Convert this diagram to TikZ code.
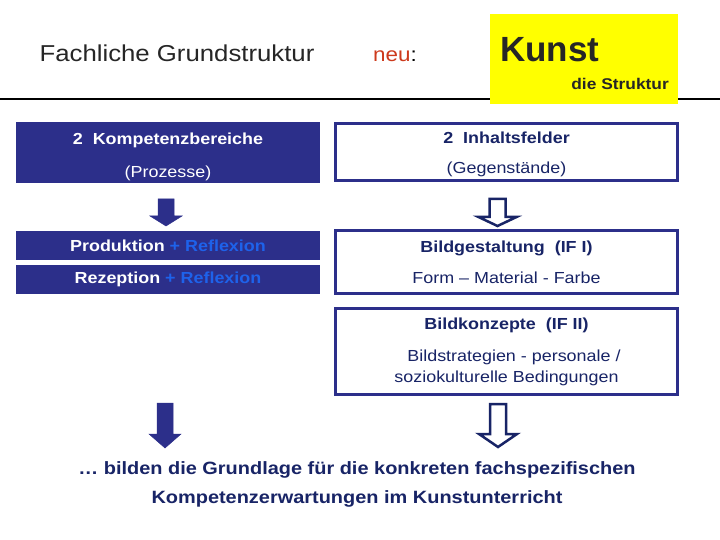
\documentclass[tikz,border=0pt]{standalone}
\usepackage{fontspec}
\setmainfont{Liberation Sans}[FakeStretch=1.12]
\newfontfamily\kunstfont{Liberation Sans}
\usetikzlibrary{positioning}
\definecolor{boxblue}{RGB}{44,47,138}
\definecolor{navy}{RGB}{24,36,102}
\definecolor{reflblue}{RGB}{30,98,235}
\definecolor{neured}{RGB}{205,58,28}
\definecolor{kunstyellow}{RGB}{255,255,0}
\tikzset{
  leftbox/.style={rectangle, fill=boxblue, text=white, minimum width=304, inner sep=0, align=center},
  rightbox/.style={rectangle, draw=boxblue, line width=3, fill=white, text=navy, minimum width=342, inner sep=0, align=center},
  solidarrow/.style={fill=boxblue, draw=boxblue, line width=0.5},
  openarrow/.style={draw=navy, fill=white, line width=2.5, line join=miter}
}

\begin{document}
\begin{tikzpicture}[x=1pt, y=-1pt]
        \useasboundingbox[fill=white] (0,0) rectangle (720,540);
        % Header
        \draw[line width=1.5] (0,99) -- (720,99);
        \node[anchor=base, font=\fontsize{23}{26}\selectfont, text=black!85] (title) at (177,62) {Fachliche Grundstruktur};
        \node[anchor=base west, inner sep=0, font=\fontsize{20}{24}\selectfont] (neu) at (373,62) {\textcolor{neured}{neu}:};
        \node[fill=kunstyellow, minimum width=188, minimum height=90, inner sep=0] (kunstbox) at (584,59) {};
        \node[anchor=base west, inner sep=0, font=\kunstfont\fontsize{35}{40}\selectfont\bfseries, text=black!85] (kunst) at (500,62) {Kunst};
        \node[anchor=base east, inner sep=0, font=\fontsize{15.5}{18}\selectfont\bfseries, text=black!85] (struktur) at (669,90) {die Struktur};

        % Kompetenzbereiche (left)
        \node[leftbox, minimum height=61, font=\fontsize{16}{33}\selectfont] (kompetenz) at (168,152.5) {\rule{0pt}{20pt}\textbf{2\ \ Kompetenzbereiche}\\(Prozesse)};
        \node[leftbox, minimum height=29, font=\fontsize{16}{18}\selectfont\bfseries] (produktion) at (168,245.5) {Produktion \textcolor{reflblue}{+ Reflexion}};
        \node[leftbox, minimum height=29, font=\fontsize{16}{18}\selectfont\bfseries] (rezeption) at (168,279.5) {Rezeption \textcolor{reflblue}{+ Reflexion}};

        % Inhaltsfelder (right)
        \node[rightbox, minimum height=57, font=\fontsize{16}{30}\selectfont] (inhalt) at (506.5,152) {\rule{0pt}{17pt}\textbf{2\ \ Inhaltsfelder}\\(Gegenstände)};
        \node[rightbox, minimum height=63, font=\fontsize{16}{31}\selectfont] (bildgestaltung) at (506.5,262) {\textbf{Bildgestaltung\ \ (IF I)}\\Form -- Material - Farbe};
        \node[rightbox, minimum height=86, font=\fontsize{16}{21}\selectfont] (bildkonzepte) at (506.5,351.5) {\textbf{Bildkonzepte\ \ (IF II)}\\[11pt]\ \ \ Bildstrategien - personale /\\soziokulturelle Bedingungen};

        % Block arrows
        \draw[solidarrow] (158,199) -- (174,199) -- (174,216) -- (182,216) -- (166,226) -- (150,216) -- (158,216) -- cycle;
        \draw[openarrow] (489.5,199) -- (505.5,199) -- (505.5,217) -- (516.5,217) -- (497.5,226) -- (478.5,217) -- (489.5,217) -- cycle;
        \draw[solidarrow] (157,403) -- (173,403) -- (173,434) -- (181,434) -- (165,448) -- (149,434) -- (157,434) -- cycle;
        \draw[openarrow] (490,404) -- (506,404) -- (506,434) -- (517,434) -- (498,447) -- (479,434) -- (490,434) -- cycle;

        % Summary
        \node[align=center, text=navy, font=\fontsize{17.8}{29}\selectfont\bfseries] (grundlage) at (357,484) {… bilden die Grundlage für die konkreten fachspezifischen\\Kompetenzerwartungen im Kunstunterricht};
\end{tikzpicture}
\end{document}
